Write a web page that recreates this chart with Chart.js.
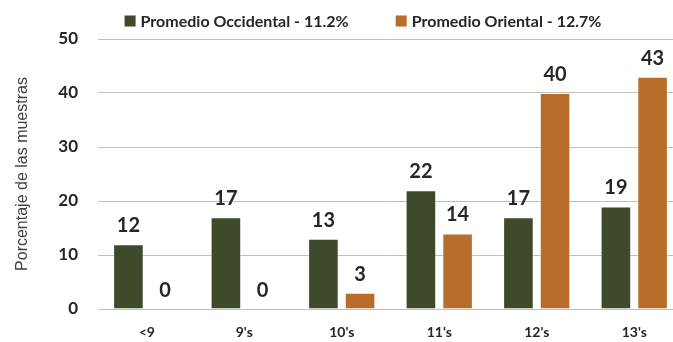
<!DOCTYPE html>
<html>
<head>
<meta charset="utf-8">
<script src="https://cdn.jsdelivr.net/npm/chart.js@4"></script>
<style>
  html, body { margin: 0; padding: 0; background: #fff; overflow: hidden; }
  #wrap { width: 726px; height: 342px; }
</style>
</head>
<body>
<div id="wrap"><canvas id="chart" width="726" height="342"></canvas></div>
<script>
// grupos de edad y porcentajes por región
const categories = ['<9', "9's", "10's", "11's", "12's", "13's"];
const occidental = [12, 17, 13, 22, 17, 19];
const oriental = [0, 0, 3, 14, 40, 43];
const seriesNames = ['Promedio Occidental - 11.2%', 'Promedio Oriental - 12.7%'];
const yTicks = [0, 10, 20, 30, 40, 50];

const GREEN = '#3f4a2b';
const ORANGE = '#b86d2a';
const TEXT = '#262626';
const GRID = '#bfbfbf';

// etiquetas de valor encima de cada barra
const valueLabels = {
  id: 'valueLabels',
  afterDatasetsDraw(chart) {
    const ctx = chart.ctx;
    ctx.save();
    ctx.font = 'bold 20px Lato';
    ctx.fillStyle = TEXT;
    ctx.textAlign = 'center';
    ctx.textBaseline = 'alphabetic';
    chart.data.datasets.forEach((ds, i) => {
      chart.getDatasetMeta(i).data.forEach((bar, j) => {
        ctx.fillText(String(ds.data[j]), bar.x, bar.y - 12);
      });
    });
    ctx.restore();
  }
};

// leyenda arriba, centrada
const topLegend = {
  id: 'topLegend',
  afterDraw(chart) {
    const ctx = chart.ctx;
    const box = 11, gap = 5, between = 47, cx = 363, cy = 21;
    ctx.save();
    ctx.font = 'bold 16px Lato';
    ctx.textBaseline = 'middle';
    ctx.textAlign = 'left';
    const items = chart.data.datasets.map(ds => ({
      label: ds.label,
      color: ds.backgroundColor,
      w: box + gap + ctx.measureText(ds.label).width
    }));
    const total = items.reduce((s, it) => s + it.w, 0) + between * (items.length - 1);
    let x = cx - total / 2;
    items.forEach(it => {
      ctx.fillStyle = it.color;
      ctx.fillRect(x, cy - box / 2, box, box);
      ctx.fillStyle = TEXT;
      ctx.fillText(it.label, x + box + gap, cy + 1);
      x += it.w + between;
    });
    ctx.restore();
  }
};

new Chart(document.getElementById('chart'), {
  type: 'bar',
  data: {
    labels: categories,
    datasets: [
      { label: seriesNames[0], data: occidental, backgroundColor: GREEN,
        borderColor: 'rgba(255,255,255,0.45)', borderWidth: 1 },
      { label: seriesNames[1], data: oriental, backgroundColor: ORANGE,
        borderColor: 'rgba(255,255,255,0.45)', borderWidth: 1 }
    ]
  },
  options: {
    responsive: false,
    animation: false,
    layout: { padding: { top: 39, right: 43, left: 0, bottom: 0 } },
    datasets: {
      bar: { categoryPercentage: 0.752, barPercentage: 0.835 }
    },
    plugins: {
      legend: { display: false },
      tooltip: { enabled: false }
    },
    scales: {
      x: {
        grid: { display: false, drawTicks: false },
        border: { display: true, color: GRID, width: 1 },
        ticks: { color: TEXT, font: { family: 'Lato', size: 14, weight: 'bold' }, padding: 15 },
        afterFit(scale) { scale.height = 33; }
      },
      y: {
        min: 0,
        max: 50,
        afterBuildTicks(scale) { scale.ticks = yTicks.map(v => ({ value: v })); },
        grid: { color: GRID, lineWidth: 1, drawTicks: false },
        border: { display: false },
        ticks: { color: TEXT, font: { family: 'Lato', size: 17, weight: 'bold' }, padding: 20 },
        title: {
          display: true,
          text: 'Porcentaje de las muestras',
          color: '#404040',
          font: { family: 'Liberation Sans', size: 16, weight: 'normal' },
          padding: { top: 13, bottom: 0 }
        },
        afterFit(scale) { scale.width = 98; }
      }
    }
  },
  plugins: [valueLabels, topLegend]
});
</script>
</body>
</html>
